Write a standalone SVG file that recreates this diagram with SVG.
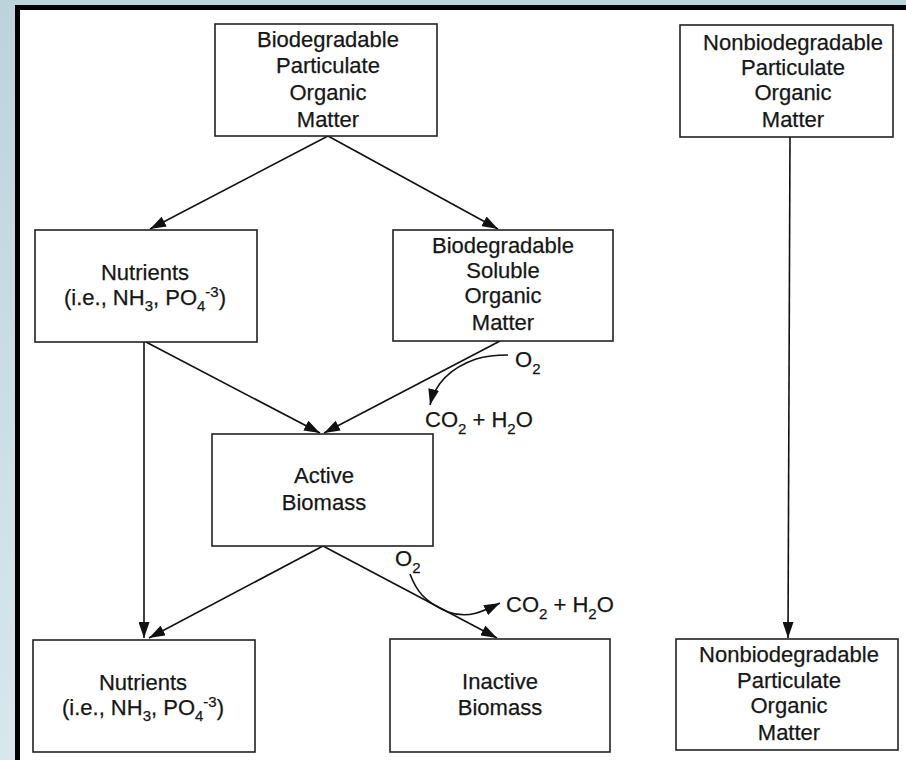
<svg xmlns="http://www.w3.org/2000/svg" width="906" height="760" viewBox="0 0 906 760">
<defs>
<linearGradient id="bg" x1="0" y1="0" x2="0" y2="1">
<stop offset="0" stop-color="#bcd3dc"/>
<stop offset="1" stop-color="#d9e7ed"/>
</linearGradient>
<marker id="ah" viewBox="0 0 16 11" refX="16" refY="5.5" markerWidth="16" markerHeight="11" markerUnits="userSpaceOnUse" orient="auto">
<path d="M0,0 L16,5.5 L0,11 Z" fill="#111"/>
</marker>
<style>
.box{fill:#fff;stroke:#222;stroke-width:1.6}
.t{font-family:"Liberation Sans",Arial,sans-serif;font-size:22px;fill:#161616;text-anchor:middle;stroke:#161616;stroke-width:0.25}
.l{font-family:"Liberation Sans",Arial,sans-serif;font-size:22px;fill:#161616;stroke:#161616;stroke-width:0.25}
.s{font-size:15px}
.c{fill:none;stroke:#111;stroke-width:1.6}
</style>
</defs>
<rect x="0" y="0" width="906" height="760" fill="url(#bg)"/>
<rect x="17.5" y="7.5" width="900" height="770" fill="#fff" stroke="#000" stroke-width="5"/>

<g id="connectors">
<path class="c" d="M328,136 L150,229" marker-end="url(#ah)"/>
<path class="c" d="M328,136 L498,229" marker-end="url(#ah)"/>
<path class="c" d="M790,137 L788,638" marker-end="url(#ah)"/>
<path class="c" d="M144,342 L144,638" marker-end="url(#ah)"/>
<path class="c" d="M146,342 L320,433" marker-end="url(#ah)"/>
<path class="c" d="M500,341 L324,433" marker-end="url(#ah)"/>
<path class="c" d="M323,546 L149,638" marker-end="url(#ah)"/>
<path class="c" d="M323,546 L497,638" marker-end="url(#ah)"/>
<path class="c" d="M508,355 C495,355 486,356 476,359 C456,366 436,380 430,405" marker-end="url(#ah)"/>
<path class="c" d="M410,574 C416,590 424,602 448,612 C468,619 482,612 500,603" marker-end="url(#ah)"/>
</g>

<g id="bio-particulate">
<rect class="box" x="215" y="24" width="222" height="112"/>
<text class="t" x="328" y="47">Biodegradable</text>
<text class="t" x="328" y="73">Particulate</text>
<text class="t" x="328" y="100">Organic</text>
<text class="t" x="328" y="127">Matter</text>
</g>

<g id="nonbio-particulate-top">
<rect class="box" x="680" y="25" width="213" height="112"/>
<text class="t" x="793" y="50">Nonbiodegradable</text>
<text class="t" x="793" y="75">Particulate</text>
<text class="t" x="793" y="100">Organic</text>
<text class="t" x="793" y="127">Matter</text>
</g>

<g id="nutrients-top">
<rect class="box" x="35" y="230" width="222" height="112"/>
<text class="t" x="145" y="280">Nutrients</text>
<text class="t" x="145" y="305">(i.e., NH<tspan class="s" dy="6">3</tspan><tspan dy="-6">, PO</tspan><tspan class="s" dy="6">4</tspan><tspan class="s" dy="-14">-3</tspan><tspan dy="8">)</tspan></text>
</g>

<g id="bio-soluble">
<rect class="box" x="393" y="230" width="220" height="111"/>
<text class="t" x="503" y="253">Biodegradable</text>
<text class="t" x="503" y="278">Soluble</text>
<text class="t" x="503" y="303">Organic</text>
<text class="t" x="503" y="330">Matter</text>
</g>

<g id="active-biomass">
<rect class="box" x="212" y="434" width="221" height="112"/>
<text class="t" x="324" y="483">Active</text>
<text class="t" x="324" y="510">Biomass</text>
</g>

<g id="nutrients-bottom">
<rect class="box" x="33" y="640" width="222" height="112"/>
<text class="t" x="143" y="690">Nutrients</text>
<text class="t" x="143" y="715">(i.e., NH<tspan class="s" dy="6">3</tspan><tspan dy="-6">, PO</tspan><tspan class="s" dy="6">4</tspan><tspan class="s" dy="-14">-3</tspan><tspan dy="8">)</tspan></text>
</g>

<g id="inactive-biomass">
<rect class="box" x="390" y="639" width="220" height="113"/>
<text class="t" x="500" y="689">Inactive</text>
<text class="t" x="500" y="715">Biomass</text>
</g>

<g id="nonbio-particulate-bottom">
<rect class="box" x="676" y="639" width="222" height="111"/>
<text class="t" x="789" y="662">Nonbiodegradable</text>
<text class="t" x="789" y="688">Particulate</text>
<text class="t" x="789" y="713">Organic</text>
<text class="t" x="789" y="740">Matter</text>
</g>

<g id="labels">
<text class="l" x="515" y="367">O<tspan class="s" dy="7">2</tspan></text>
<text class="l" x="425" y="427">CO<tspan class="s" dy="7">2</tspan><tspan dy="-7"> + H</tspan><tspan class="s" dy="7">2</tspan><tspan dy="-7">O</tspan></text>
<text class="l" x="395" y="566">O<tspan class="s" dy="7">2</tspan></text>
<text class="l" x="506" y="612">CO<tspan class="s" dy="7">2</tspan><tspan dy="-7"> + H</tspan><tspan class="s" dy="7">2</tspan><tspan dy="-7">O</tspan></text>
</g>
</svg>
